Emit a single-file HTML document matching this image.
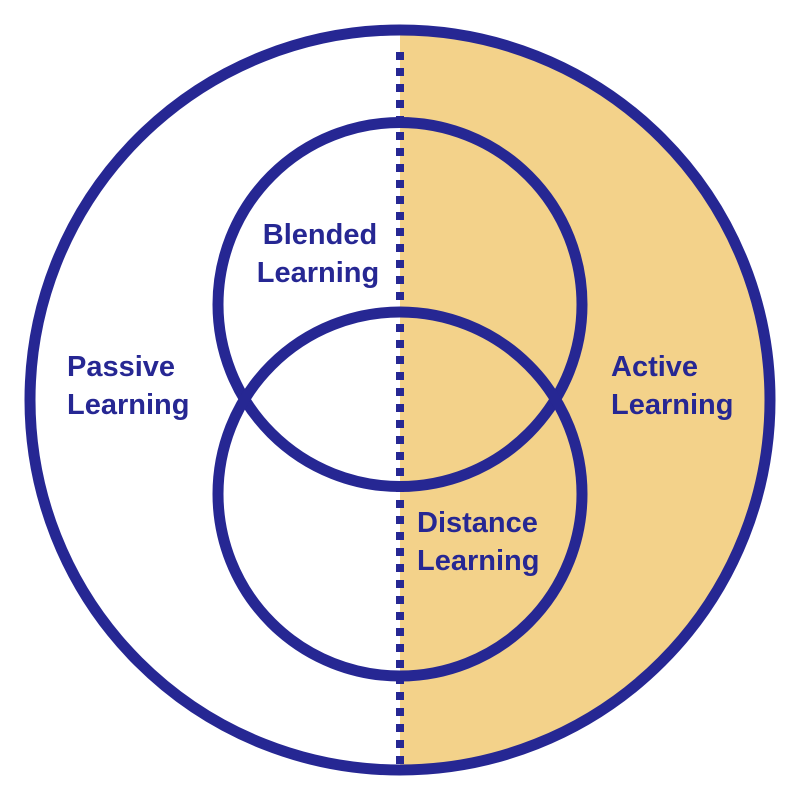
<!DOCTYPE html>
<html><head><style>
html,body{margin:0;padding:0;background:#fff;}
svg{display:block;}
text{font-family:"Liberation Sans",sans-serif;font-weight:bold;font-size:29px;fill:#262793;}
</style></head><body>
<svg width="800" height="800" viewBox="0 0 800 800">
<defs><clipPath id="r"><rect x="400" y="0" width="400" height="800"/></clipPath></defs>
<circle cx="400" cy="400" r="370" fill="#F3D28A" clip-path="url(#r)"/>
<line x1="400" y1="52" x2="400" y2="770" stroke="#262793" stroke-width="8" stroke-dasharray="8 8"/>
<circle cx="400" cy="400" r="370" fill="none" stroke="#262793" stroke-width="11"/>
<circle cx="400" cy="304.5" r="182" fill="none" stroke="#262793" stroke-width="11"/>
<circle cx="400" cy="494" r="182" fill="none" stroke="#262793" stroke-width="11"/>
<text x="320" y="244" text-anchor="middle">Blended</text>
<text x="318" y="282" text-anchor="middle">Learning</text>
<text x="67" y="376">Passive</text>
<text x="67" y="414">Learning</text>
<text x="611" y="376">Active</text>
<text x="611" y="414">Learning</text>
<text x="417" y="532">Distance</text>
<text x="417" y="570">Learning</text>
</svg>
</body></html>
